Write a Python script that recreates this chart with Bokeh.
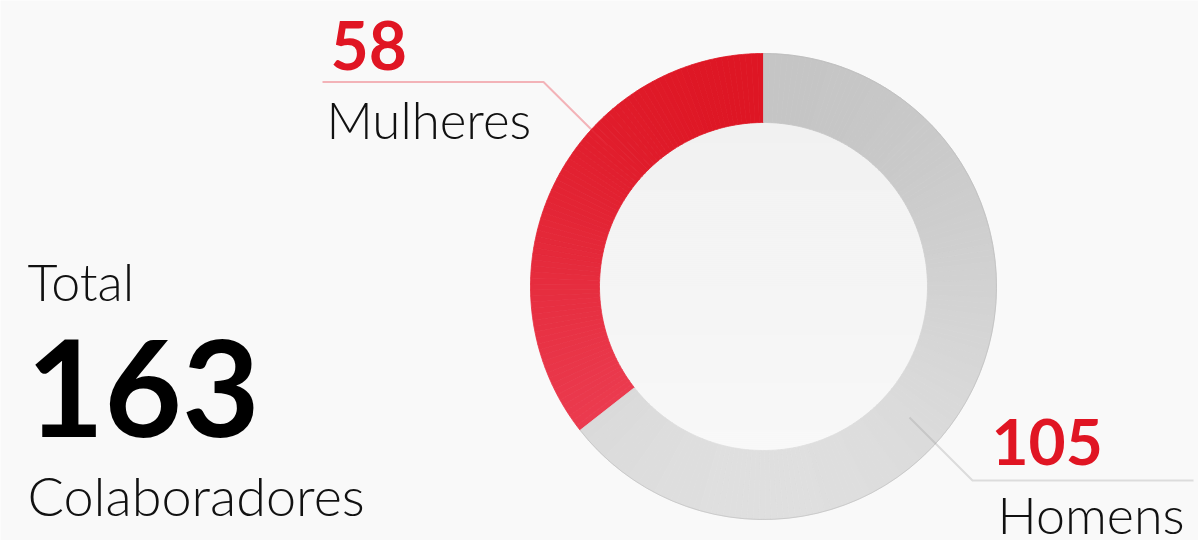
import math
from bokeh.plotting import figure
from bokeh.models import Range1d, ColumnDataSource
from bokeh.embed import file_html
from bokeh.resources import INLINE
from bokeh.core.properties import value

# ---------------- data ----------------
categories = ["Mulheres", "Homens"]
values = [58, 105]
total_label = "Total"
total_caption = "Colaboradores"

# ---------------- style ----------------
BG = "#f9f9f9"
RED = "#e01523"
SEG_TOP = {"Mulheres": (0xde, 0x16, 0x24), "Homens": (0xc5, 0xc5, 0xc5)}
SEG_BOT = {"Mulheres": (0xee, 0x44, 0x59), "Homens": (0xdf, 0xdf, 0xdf)}
DISC_TOP = (0xf1, 0xf1, 0xf1)
DISC_BOT = (0xf8, 0xf8, 0xf8)
NUM_FONT = value("Lato")
LBL_FONT = value("'Lato Light', Lato")

W, H = 1198, 540
p = figure(width=W, height=H, x_range=Range1d(0, W), y_range=Range1d(0, H),
           output_backend="svg", toolbar_location=None, min_border=0,
           x_axis_location=None, y_axis_location=None)
p.grid.visible = False
p.outline_line_color = None
p.background_fill_color = BG
p.border_fill_color = BG

CX, CY = 763, 254
R_OUT, R_IN = 233, 164


def mix(c0, c1, t):
    t = max(0.0, min(1.0, t))
    return "#%02x%02x%02x" % tuple(int(round(a + (b - a) * t)) for a, b in zip(c0, c1))


# inner disc with vertical gradient (horizontal strips, edge hidden under ring)
ys, lefts, rights, cols = [], [], [], []
step = 2
rd = R_IN + 3
yy = -rd
while yy <= rd:
    half = math.sqrt(max(0.0, rd * rd - yy * yy))
    ys.append(CY + yy)
    lefts.append(CX - half)
    rights.append(CX + half)
    cols.append(mix(DISC_TOP, DISC_BOT, (rd - yy) / (2 * rd)))
    yy += step
p.hbar(y=ys, left=lefts, right=rights, height=step + 0.6, fill_color=cols,
       line_color=None)

# ring segments, split into thin pieces to imitate a vertical gradient
total = sum(values)
starts, ends, fills = [], [], []
seg_bounds = []
a0 = 90.0
for cat, v in zip(categories, values):
    span = v / total * 360.0
    seg_bounds.append((a0, a0 + span))
    n = max(2, int(math.ceil(span / 1.5)))
    for i in range(n):
        s = a0 + span * i / n
        e = a0 + span * (i + 1) / n
        m = math.radians((s + e) / 2)
        t = (1 - math.sin(m)) / 2
        starts.append(math.radians(s))
        ends.append(math.radians(e))
        fills.append(mix(SEG_TOP[cat], SEG_BOT[cat], t))
    a0 += span

src = ColumnDataSource(dict(start=starts, end=ends, color=fills))
p.annular_wedge(x=CX, y=CY, inner_radius=R_IN, outer_radius=R_OUT,
                start_angle="start", end_angle="end", fill_color="color",
                line_color="color", line_width=0.8, source=src)

# faint outline on the grey segment's outer edge
gs, ge = seg_bounds[1]
p.arc(x=CX, y=CY, radius=R_OUT, start_angle=math.radians(gs),
      end_angle=math.radians(ge), line_color="#b8b8b8", line_alpha=0.55,
      line_width=1)

# leader lines
p.line([322, 543, 607], [458.5, 458.5, 395], line_color="#e8323f",
       line_alpha=0.35, line_width=2)
p.line([909, 972, 1193], [123, 60, 60], line_color="#999999",
       line_alpha=0.3, line_width=2)

# value labels
p.text(x=[330], y=[495.5], text=[str(values[0])], text_color=RED,
       text_font=NUM_FONT, text_font_style="bold", text_font_size="66px",
       text_baseline="alphabetic", text_align="left")
p.text(x=[991], y=[99], text=[str(values[1])], text_color=RED,
       text_font=NUM_FONT, text_font_style="bold", text_font_size="64px",
       text_baseline="alphabetic", text_align="left")

# category labels
p.text(x=[326], y=[421], text=[categories[0]], text_color="#111111",
       text_font=LBL_FONT, text_font_size="51px",
       text_baseline="alphabetic", text_align="left")
p.text(x=[997], y=[27], text=[categories[1]], text_color="#111111",
       text_font=LBL_FONT, text_font_size="52px",
       text_baseline="alphabetic", text_align="left")

# total block
p.text(x=[27], y=[260], text=[total_label], text_color="#111111",
       text_font=LBL_FONT, text_font_size="52px",
       text_baseline="alphabetic", text_align="left")
p.text(x=[26], y=[153], text=[str(total)], text_color="#000000",
       text_font=NUM_FONT, text_font_style="bold", text_font_size="134px",
       text_baseline="alphabetic", text_align="left")
p.text(x=[27], y=[45], text=[total_caption], text_color="#111111",
       text_font=LBL_FONT, text_font_size="54px",
       text_baseline="alphabetic", text_align="left")

html = file_html(p, INLINE)
html = html.replace("<body>", '<body style="background:%s;">' % BG, 1)
open("out.html", "w").write(html)
